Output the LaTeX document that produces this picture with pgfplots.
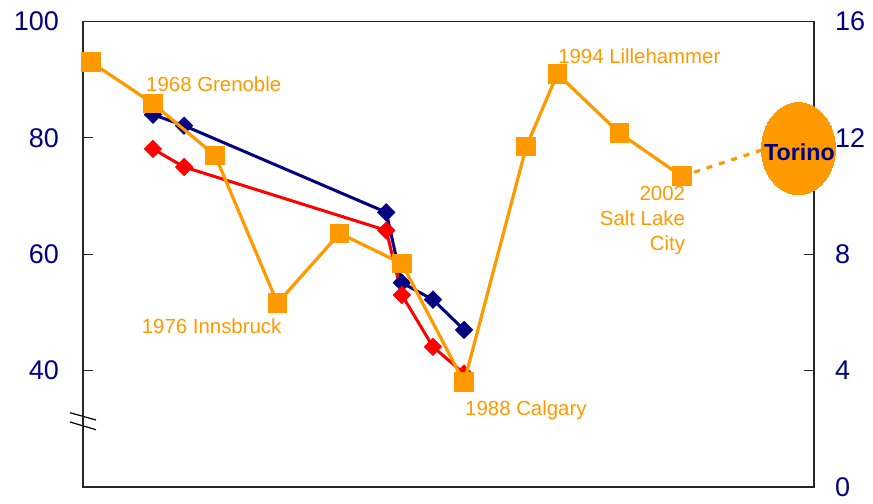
\documentclass[border=0pt]{standalone}
\usepackage{pgfplots}
\pgfplotsset{compat=1.18}
\usepackage{fontspec}
\setmainfont{Liberation Sans}
\definecolor{navy}{RGB}{0,0,128}
\definecolor{gold}{RGB}{255,153,0}
\definecolor{hred}{RGB}{255,0,0}

\begin{document}
\begin{tikzpicture}
\pgfplotsset{
  every axis/.append style={
    scale only axis, width=365.5pt, height=232.75pt,
    xmin=1963.5, xmax=2010.5,
    xtick=\empty,
    tick align=inside, major tick length=5pt,
    axis line style={black!85, line width=0.6pt},
    every tick/.style={black!85, line width=0.6pt},
    /pgf/number format/assume math mode=true,
    tick label style={font=\fontsize{13.5}{16}\selectfont, text=navy},
    clip=false,
  },
}
% left scale: the two diamond series
\begin{axis}[
  ymin=20, ymax=100, ytick={40,60,80,100},
  ytick pos=left,
  yticklabel style={xshift=-8.5pt},
]
\addplot[navy, line width=1.5pt, mark=square*, mark size=2.5pt,
  mark options={rotate=45, solid}] coordinates {
  (1968,84.0) (1970,82.1) (1983,67.2) (1984,55.1) (1986,52.2) (1988,47.0)
};
\addplot[hred, line width=1.5pt, mark=square*, mark size=2.5pt,
  mark options={rotate=45, solid}] coordinates {
  (1968,78.1) (1970,75.0) (1983,64.1) (1984,53.0) (1986,44.1) (1988,39.5)
};
% axis break marks
\draw[black, line width=0.6pt] ([shift={(-6.5pt,37.15pt)}]rel axis cs:0,0) -- ([shift={(6.5pt,33.5pt)}]rel axis cs:0,0);
\draw[black, line width=0.6pt] ([shift={(-6.5pt,32.5pt)}]rel axis cs:0,0) -- ([shift={(6.5pt,28.65pt)}]rel axis cs:0,0);
\end{axis}

% right scale: the host series
\begin{axis}[
  ymin=0, ymax=16, ytick={0,4,8,12,16},
  ytick pos=right, hide x axis,
  yticklabel style={xshift=7pt},
]
\addplot[gold, line width=1.6pt, mark=square*, mark size=4.1pt] coordinates {
  (1964,14.61) (1968,13.18) (1972,11.39) (1976,6.32) (1980,8.72) (1984,7.68)
  (1988,3.60) (1992,11.7) (1994,14.2) (1998,12.16) (2002,10.68)
};
\addplot[gold, line width=1.6pt, dash pattern=on 3pt off 3.5pt] coordinates {
  (2002,10.68) (2009.5,12.0)
};
\addplot[gold, only marks, mark=*, mark size=18.5pt,
  mark options={fill=gold, draw=gold, line width=0pt, yscale=1.243},
  nodes near coords={Torino},
  every node near coord/.append style={anchor=center, inner sep=0pt,
    xshift=0.5pt, yshift=-1.9pt, text=navy,
    font=\fontsize{11.6}{14}\selectfont\bfseries}] coordinates {(2009.5,11.63)};

\begin{scope}[every node/.style={inner sep=0pt, text=gold, font=\fontsize{10.2}{12.35}\selectfont}]
\node[anchor=west] at (axis cs:1967.54,13.86) {1968 Grenoble};
\node[anchor=east] at (axis cs:1976.28,5.54) {1976 Innsbruck};
\node[anchor=west] at (axis cs:1988.05,2.65) {1988 Calgary};
\node[anchor=west] at (axis cs:1994.03,14.79) {1994 Lillehammer};
\node[anchor=east, align=right] at (axis cs:2002.23,9.16) {2002\\Salt Lake\\City};
\end{scope}

\path ([shift={(-41.5pt,-6.25pt)}]rel axis cs:0,0) rectangle ([shift={(29.5pt,10.75pt)}]rel axis cs:1,1);
\end{axis}
\end{tikzpicture}
\end{document}
